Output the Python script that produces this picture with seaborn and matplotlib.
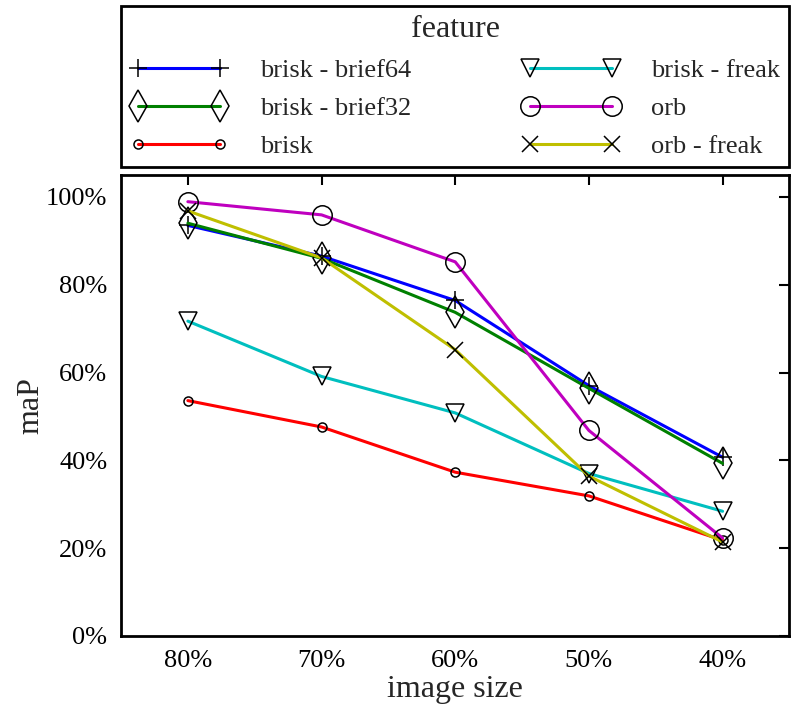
import pandas as pd
import seaborn as sns
import matplotlib.pyplot as plt

sns.set_theme(style="white", color_codes=False)
plt.rcParams['font.family'] = ['Liberation Serif', 'DejaVu Serif']

# image size categories (x axis)
sizes = ["80%", "70%", "60%", "50%", "40%"]

# maP values (%)
brisk_brief64 = [93.5, 86.5, 76.4, 57.0, 40.7]
brisk_brief32 = [94.0, 86.0, 73.7, 56.4, 39.3]
brisk = [53.6, 47.6, 37.3, 31.9, 21.8]
brisk_freak = [71.7, 59.1, 50.8, 37.0, 28.4]
orb = [98.9, 95.9, 85.2, 46.8, 22.3]
orb_freak = [96.8, 86.1, 65.2, 36.4, 21.4]

series = [
    ("brisk - brief64", brisk_brief64, "#0000ff", "+", 13),
    ("brisk - brief32", brisk_brief32, "#008000", "d", 16),
    ("brisk", brisk, "#ff0000", "o", 6.5),
    ("brisk - freak", brisk_freak, "#00bfbf", "v", 13),
    ("orb", orb, "#bf00bf", "o", 14),
    ("orb - freak", orb_freak, "#bfbf00", "x", 12),
]

fig = plt.figure(figsize=(7.91, 7.11), dpi=100)
ax = fig.add_axes([0.153, 0.1055, 0.845, 0.6485])

for name, vals, col, mk, ms in series:
    df = pd.DataFrame({"size": sizes, "maP": vals})
    sns.lineplot(data=df, x="size", y="maP", ax=ax, color=col, lw=2.2,
                 marker=mk, markersize=ms, markerfacecolor="none",
                 markeredgecolor="black", markeredgewidth=1.1, label=name,
                 legend=False)

ax.set_xlim(-0.5, 4.5)
ax.set_ylim(0, 105)
ax.set_yticks(range(0, 101, 20))
ax.set_yticklabels([f"{v}%" for v in range(0, 101, 20)])
ax.set_xlabel("image size", fontsize=23, labelpad=2)
ax.set_ylabel("maP", fontsize=23, labelpad=0)
ax.tick_params(direction="in", length=7, width=1.5, top=True, right=True,
               labelsize=19, pad=10, colors="black")
for s in ax.spines.values():
    s.set_color("black")
    s.set_linewidth(2)

handles, labels = ax.get_legend_handles_labels()
leg = fig.legend(handles, labels, ncol=2, loc="upper left",
                 bbox_to_anchor=(0.153, 0.992, 0.845, 0.0), mode="expand",
                 title="feature", title_fontsize=23, fontsize=19,
                 numpoints=2, handlelength=3.7, handletextpad=1.2,
                 labelspacing=0.55, borderaxespad=0, fancybox=False,
                 frameon=True, framealpha=1, edgecolor="black",
                 borderpad=0.35)
leg.get_frame().set_linewidth(2)

fig.savefig("out.png", dpi=100)
